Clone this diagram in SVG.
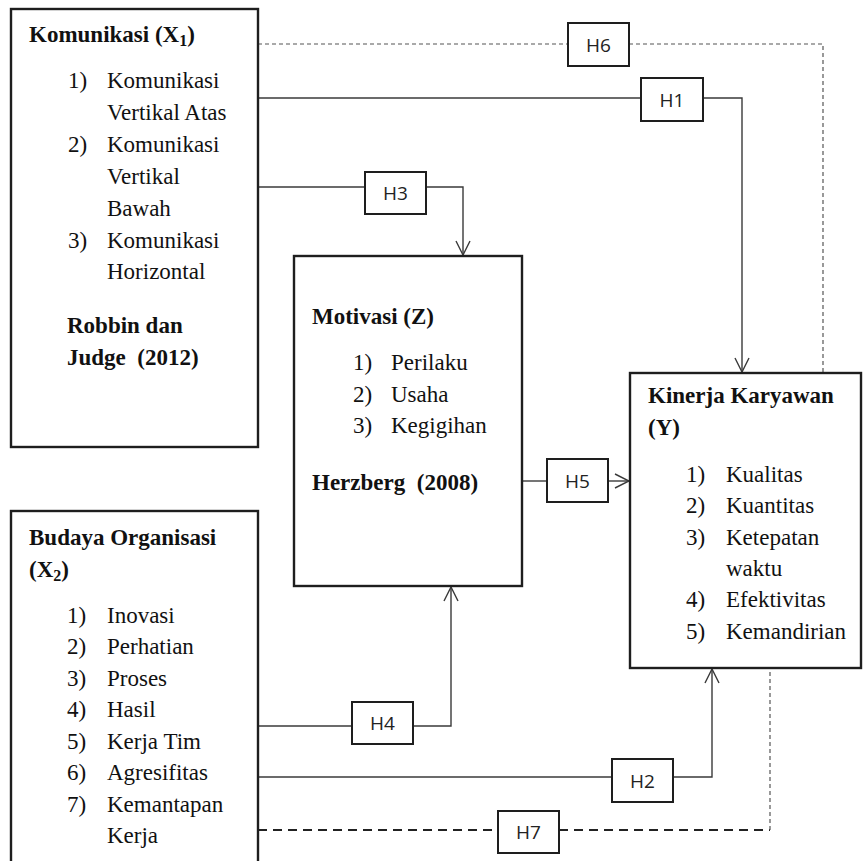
<svg xmlns="http://www.w3.org/2000/svg" width="864" height="861" viewBox="0 0 864 861">
<style>
.bg{fill:#fff}
.box{fill:none;stroke:#1e1e1e;stroke-width:2.4}
.hbox{fill:#fff;stroke:#1e1e1e;stroke-width:2}
.ln{fill:none;stroke:#3a3a3a;stroke-width:1.4}
.dot{fill:none;stroke:#555;stroke-width:1.2;stroke-dasharray:4 3}
.dash{fill:none;stroke:#222;stroke-width:2.2;stroke-dasharray:9 6}
.t{font-family:"Liberation Serif","Times New Roman",serif;font-size:23px;fill:#111}
.b{font-weight:bold}
.h{font-family:"Open Sans","Liberation Sans",sans-serif;font-size:19px;fill:#222;text-anchor:middle}
</style>
<defs>
<marker id="arr" markerUnits="userSpaceOnUse" markerWidth="16" markerHeight="16" viewBox="0 0 16 16" refX="15" refY="8" orient="auto">
<path d="M1,1 L15,8 L1,15" fill="none" stroke="#3a3a3a" stroke-width="1.4"/>
</marker>
</defs>
<rect class="bg" x="0" y="0" width="864" height="861"/>

<g id="connectors">
  <g id="c-h6">
    <path class="dot" d="M258,44 H568"/>
    <path class="dot" d="M629,44 H823 V373"/>
    <rect class="hbox" x="568" y="23" width="61" height="43"/>
    <text class="h" x="598.5" y="51.5">H6</text>
  </g>
  <g id="c-h1">
    <path class="ln" d="M258,98 H641"/>
    <path class="ln" d="M703,98 H742 V372" marker-end="url(#arr)"/>
    <rect class="hbox" x="641" y="78" width="62" height="43"/>
    <text class="h" x="672" y="106.5">H1</text>
  </g>
  <g id="c-h3">
    <path class="ln" d="M258,187 H365"/>
    <path class="ln" d="M426,187 H463 V255" marker-end="url(#arr)"/>
    <rect class="hbox" x="365" y="172" width="61" height="42"/>
    <text class="h" x="395.5" y="200">H3</text>
  </g>
  <g id="c-h5">
    <path class="ln" d="M522,481 H547"/>
    <path class="ln" d="M608,481 H629" marker-end="url(#arr)"/>
    <rect class="hbox" x="547" y="459" width="61" height="43"/>
    <text class="h" x="577.5" y="487.5">H5</text>
  </g>
  <g id="c-h4">
    <path class="ln" d="M258,726 H352"/>
    <path class="ln" d="M413,726 H451 V587" marker-end="url(#arr)"/>
    <rect class="hbox" x="352" y="702" width="61" height="42"/>
    <text class="h" x="382.5" y="730">H4</text>
  </g>
  <g id="c-h2">
    <path class="ln" d="M258,777 H612"/>
    <path class="ln" d="M673,777 H712 V669" marker-end="url(#arr)"/>
    <rect class="hbox" x="612" y="759" width="61" height="43"/>
    <text class="h" x="642.5" y="787.5">H2</text>
  </g>
  <g id="c-h7">
    <path class="dash" d="M258,830 H498"/>
    <path class="dash" d="M559,830 H770"/>
    <path class="dot" d="M770,830 V668"/>
    <rect class="hbox" x="498" y="811" width="61" height="42"/>
    <text class="h" x="528.5" y="839">H7</text>
  </g>
</g>

<g id="x1">
  <rect class="box" x="11" y="9" width="247" height="438"/>
  <text class="t b" x="29" y="42">Komunikasi (X<tspan font-size="16" dy="4">1</tspan><tspan dy="-4">)</tspan></text>
  <text class="t" x="68" y="88">1)</text><text class="t" x="107" y="88">Komunikasi</text>
  <text class="t" x="107" y="120">Vertikal Atas</text>
  <text class="t" x="68" y="152">2)</text><text class="t" x="107" y="152">Komunikasi</text>
  <text class="t" x="107" y="184">Vertikal</text>
  <text class="t" x="107" y="216">Bawah</text>
  <text class="t" x="68" y="248">3)</text><text class="t" x="107" y="248">Komunikasi</text>
  <text class="t" x="107" y="279">Horizontal</text>
  <text class="t b" x="67" y="333">Robbin dan</text>
  <text class="t b" x="67" y="365" xml:space="preserve">Judge  (2012)</text>
</g>

<g id="z">
  <rect class="box" x="294" y="256" width="228" height="330"/>
  <text class="t b" x="312" y="324">Motivasi (Z)</text>
  <text class="t" x="353" y="370">1)</text><text class="t" x="391" y="370">Perilaku</text>
  <text class="t" x="353" y="402">2)</text><text class="t" x="391" y="402">Usaha</text>
  <text class="t" x="353" y="433">3)</text><text class="t" x="391" y="433">Kegigihan</text>
  <text class="t b" x="312" y="490" xml:space="preserve">Herzberg  (2008)</text>
</g>

<g id="y">
  <rect class="box" x="630" y="373" width="231" height="295"/>
  <text class="t b" x="648" y="403">Kinerja Karyawan</text>
  <text class="t b" x="648" y="435">(Y)</text>
  <text class="t" x="686" y="482">1)</text><text class="t" x="726" y="482">Kualitas</text>
  <text class="t" x="686" y="513">2)</text><text class="t" x="726" y="513">Kuantitas</text>
  <text class="t" x="686" y="545">3)</text><text class="t" x="726" y="545">Ketepatan</text>
  <text class="t" x="726" y="576">waktu</text>
  <text class="t" x="686" y="607">4)</text><text class="t" x="726" y="607">Efektivitas</text>
  <text class="t" x="686" y="639">5)</text><text class="t" x="726" y="639">Kemandirian</text>
</g>

<g id="x2">
  <rect class="box" x="11" y="511" width="247" height="360"/>
  <text class="t b" x="29" y="545">Budaya Organisasi</text>
  <text class="t b" x="29" y="577">(X<tspan font-size="16" dy="4">2</tspan><tspan dy="-4">)</tspan></text>
  <text class="t" x="67" y="623">1)</text><text class="t" x="107" y="623">Inovasi</text>
  <text class="t" x="67" y="654">2)</text><text class="t" x="107" y="654">Perhatian</text>
  <text class="t" x="67" y="686">3)</text><text class="t" x="107" y="686">Proses</text>
  <text class="t" x="67" y="717">4)</text><text class="t" x="107" y="717">Hasil</text>
  <text class="t" x="67" y="749">5)</text><text class="t" x="107" y="749">Kerja Tim</text>
  <text class="t" x="67" y="780">6)</text><text class="t" x="107" y="780">Agresifitas</text>
  <text class="t" x="67" y="812">7)</text><text class="t" x="107" y="812">Kemantapan</text>
  <text class="t" x="107" y="843">Kerja</text>
</g>
</svg>
